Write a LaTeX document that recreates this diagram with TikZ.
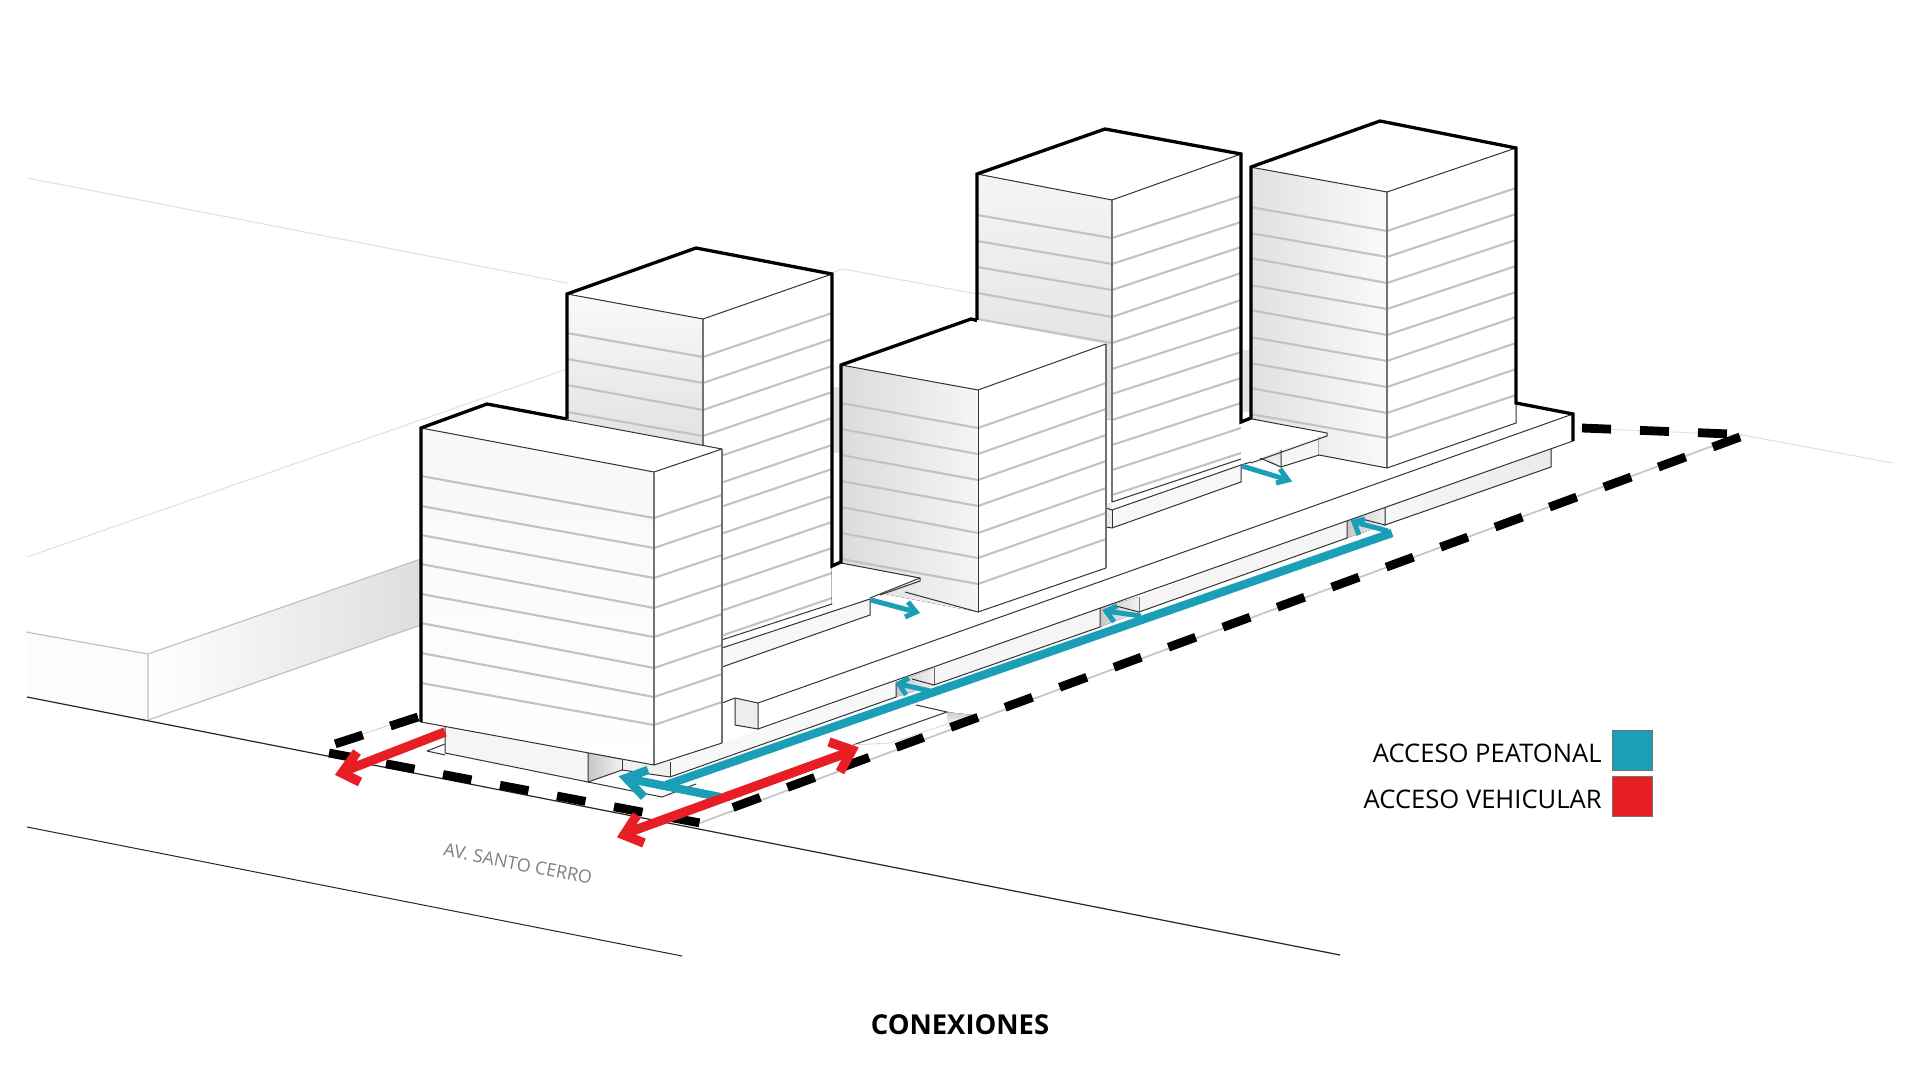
\documentclass[tikz,border=0pt]{standalone}
\usepackage{fontspec}
\setmainfont{Open Sans}
\definecolor{teal1}{HTML}{1B9FB8}
\definecolor{red1}{HTML}{E71F25}
\tikzset{
  thinedge/.style={draw=black!80,line width=.5pt},
  grayedge/.style={draw=black!55,line width=.7pt},
  thick1/.style={draw=black,line width=1.65pt,line join=miter,line cap=butt},
  floorline/.style={draw=black!24,line width=1.05pt},
  faint/.style={draw=black!12,line width=.5pt},
  bound/.style={draw=black,line width=4.4pt,dash pattern=on 14.5pt off 14.5pt},
  tealline/.style={draw=teal1,line width=4.2pt,line join=miter},
  tealsmall/.style={draw=teal1,line width=2.5pt,line join=miter,miter limit=6},
  redline/.style={draw=red1,line width=4.7pt,line join=miter,miter limit=6},
  segface/.style={fill=black!4,draw=black!75,line width=.55pt},
  recess/.style={left color=black!22,right color=black!5},
}
\begin{document}
\begin{tikzpicture}[x=.5pt,y=-.5pt]
\useasboundingbox (0,0) rectangle (1920,1080);
\fill[white] (0,0) rectangle (1920,1080);
% ---------- ground
\draw[faint] (27,178) -- (567,283);
\draw[faint] (831,273) -- (843,269) -- (977,294);
\draw[faint] (27,557) -- (567,369);
\draw[faint] (1742,435) -- (1893,463);
% block at left
\fill[black!1] (26,632) -- (148,654) -- (148,720) -- (26,697) -- cycle;
\fill[left color=white,middle color=black!2,right color=black!13] (148,654) -- (421,559) -- (421,625) -- (148,720) -- cycle;
\draw[floorline,line width=.6pt] (26,632) -- (148,654) -- (421,559);
\draw[floorline,line width=.6pt] (148,654) -- (148,720) -- (421,625);
% road
\draw[black!85,line width=.6pt] (27,697) -- (1340,955);
\draw[black!85,line width=.5pt] (27,827) -- (682,956);
% boundary underlay
\draw[black!22,line width=.9pt] (700,823) -- (1742,435);
\draw[black!10,line width=.5pt] (1578,428) -- (1742,435);
\draw[black!25,line width=.3pt] (336,743) -- (420,715);
% ---------- platform
\fill[white] (758,703) -- (1573,414) -- (1516,403) -- (1240,420) -- (850,570) -- (722,640) -- (722,703) -- cycle;
% right segments under the platform
\fill[left color=black!3,right color=black!8] (1385,508) -- (1551,448) -- (1551,467) -- (1385,525) -- cycle;
\fill[recess] (1347,520) -- (1385,508) -- (1385,525) -- (1347,538) -- cycle;
\draw[thinedge] (1551,448) -- (1551,467) -- (1385,525) -- (1385,508);
\draw[thinedge] (1385,525) -- (1362,519);
\fill[black!4] (1139,597) -- (1347,520) -- (1347,538) -- (1139,612) -- cycle;
\draw[thinedge] (1347,520) -- (1347,538) -- (1139,612) -- (1139,597);
\fill[recess] (1100,608) -- (1139,597) -- (1139,612) -- (1100,627) -- cycle;
\draw[thinedge] (1139,612) -- (1116,606);
\fill[black!4] (934,668) -- (1100,608) -- (1100,627) -- (934,685) -- cycle;
\draw[thinedge] (1100,608) -- (1100,627) -- (934,685) -- (934,668);
\fill[recess] (896,682) -- (934,668) -- (934,685) -- (896,697) -- cycle;
\draw[thinedge] (934,685) -- (912,679);
\fill[black!3] (670,762) -- (896,682) -- (896,697) -- (670,777) -- cycle;
\draw[thinedge] (896,682) -- (896,697) -- (670,777);
% platform front
\fill[white] (758,703) -- (1573,414) -- (1573,441) -- (758,729) -- cycle;
\fill[black!7] (735,698) -- (758,703) -- (758,729) -- (735,725) -- cycle;
\draw[thinedge] (722,703) -- (735,698) -- (758,703) -- (1573,414);
\draw[thinedge] (735,698) -- (735,725) -- (758,729) -- (758,703);
\draw[thinedge] (758,729) -- (1573,441);
% ---------- tower D
\fill[white] (977,174) -- (1105,129) -- (1241,154) -- (1112,200) -- cycle;
\fill[top color=black!4,bottom color=black!13] (977,174) -- (1112,200) -- (1112,420) -- (977,400) -- cycle;
\fill[white] (1112,200) -- (1241,154) -- (1241,459) -- (1112,502) -- cycle;
\foreach \a/\b in {215/238,241/264,267/290,293/317,319/343}
  \draw[floorline] (977,\a) -- (1112,\b);
\foreach \a/\b in {196/238,222/264,247/290,273/317,300/343,327/369,352/394,378/420,403/445,428/470,453/495}
  \draw[floorline] (1241,\a) -- (1112,\b);
\draw[grayedge] (1112,200) -- (1112,502);
\draw[thinedge] (977,174) -- (1112,200) -- (1241,154);
% slab of D, E
\fill[black!11] (1243,350) rectangle (1252,412);
\fill[top color=black!12,bottom color=black!3] (1251,450) -- (1281,450) -- (1281,467) -- cycle;
\fill[black!4] (1281,450) -- (1319,437) -- (1319,455) -- (1281,467) -- cycle;
\draw[thinedge] (1281,450) -- (1281,467) -- (1319,455) -- (1319,437);
\draw[thinedge] (1260,458) -- (1281,467);
% tower E
\fill[white] (1250,167) -- (1380,121) -- (1516,148) -- (1387,192) -- cycle;
\fill[left color=black!12,right color=black!2] (1250,167) -- (1387,192) -- (1387,468) -- (1319,455) -- (1319,437) -- (1250,417) -- cycle;
\fill[white] (1387,192) -- (1516,148) -- (1516,423) -- (1387,468) -- cycle;
\foreach \a/\b in {207/231,233/257,258/283,285/309,310/335,337/361,363/387,388/413,414/438}
  \draw[floorline] (1250,\a) -- (1387,\b);
\foreach \a/\b in {188/231,214/257,240/283,266/309,292/335,317/361,343/387,369/413,395/438}
  \draw[floorline] (1516,\a) -- (1387,\b);
\draw[grayedge] (1387,192) -- (1387,468);
\draw[thinedge] (1250,167) -- (1387,192) -- (1516,148);
\draw[thinedge] (1516,403) -- (1516,423) -- (1387,468) -- (1319,455);
% E slab top
\fill[white] (1252,419) -- (1327,433) -- (1281,450) -- (1241,465) -- (1241,421) -- cycle;
\draw[thinedge] (1252,419) -- (1327,433) -- (1327,436) -- (1251,463);
\draw[thinedge] (1241,459) -- (1112,502);
\fill[black!3] (1112,510) -- (1241,465) -- (1241,482) -- (1112,528) -- cycle;
\fill[black!8] (1106,503) rectangle (1112,528);
\draw[thinedge] (1251,462) -- (1241,465) -- (1112,510) -- (1106,508);
\draw[thinedge] (1241,465) -- (1241,482) -- (1112,528) -- (1106,527) -- (1106,503);
\draw[thinedge] (1112,510) -- (1112,528);
\draw[thick1] (977,320) -- (977,174) -- (1105,129) -- (1241,154) -- (1241,422) -- (1251,418) -- (1251,167) -- (1380,121) -- (1516,148) -- (1516,403) -- (1573,414) -- (1573,441);
% ---------- tower B
\fill[white] (567,294) -- (696,248) -- (832,274) -- (703,319) -- cycle;
\fill[top color=black!2,bottom color=black!12] (567,294) -- (703,319) -- (703,450) -- (567,430) -- cycle;
\fill[white] (703,319) -- (832,274) -- (832,604) -- (703,646) -- cycle;
\foreach \a/\b in {333/357,359/383,385/410,412/436}
  \draw[floorline] (567,\a) -- (703,\b);
\foreach \a/\b in {313/357,339/383,366/410,392/436,418/462,445/489,469/513,496/540,522/566,548/592,573/617,598/642}
  \draw[floorline] (832,\a) -- (703,\b);
\draw[grayedge] (703,319) -- (703,646);
\draw[thinedge] (567,294) -- (703,319) -- (832,274);
\draw[thinedge] (832,565) -- (832,604) -- (703,646);
% gap shading B-C
\fill[black!11] (833,387) rectangle (841,453);
% slab of B, C
\fill[black!3] (722,648) -- (870,599) -- (870,615) -- (722,667) -- cycle;
\draw[thinedge] (722,648) -- (870,599) -- (870,615) -- (722,667);
% ---------- tower C
\fill[white] (841,365) -- (971,319) -- (1106,344) -- (978,390) -- cycle;
\fill[left color=black!14,right color=black!4] (841,365) -- (978,390) -- (978,612) -- (880,593) -- (841,563) -- cycle;
\fill[white] (978,390) -- (1106,344) -- (1106,568) -- (978,612) -- cycle;
\foreach \a/\b in {403/428,429/454,455/480,481/506,507/533,533/558,559/584}
  \draw[floorline] (841,\a) -- (978,\b);
\foreach \a/\b in {383/428,409/454,435/480,461/506,488/533,513/558,539/584}
  \draw[floorline] (1106,\a) -- (978,\b);
\draw[grayedge] (1106,344) -- (1106,568);
\draw[thinedge] (978,390) -- (978,612);
\draw[thinedge] (841,365) -- (978,390) -- (1106,344);
\draw[thinedge] (1106,568) -- (978,612) -- (905,592);
\fill[white] (841,563) -- (920,579) -- (870,598) -- (832,604) -- (832,566) -- cycle;
\draw[thinedge] (841,563) -- (920,578) -- (920,581) -- (880,595);
\draw[thinedge] (870,598) -- (920,578);
\draw[thick1] (567,420) -- (567,294) -- (696,248) -- (832,274) -- (832,566) -- (841,562) -- (841,365) -- (971,319) -- (977,320.5);
% ---------- second plate by the front of the platform
\fill[white] (853,745) -- (947,712) -- (947,723) -- cycle;
\fill[top color=black!20,bottom color=white] (947,712) -- (973,715) -- (947,727) -- cycle;
\draw[thinedge] (916,705) -- (947,712) -- (853,745);
\draw[black!15,line width=.4pt] (853,745) -- (890,743) -- (947,724);
% ---------- tower A and base
\fill[white] (427,751) -- (445,744) -- (622,770) -- (696,784) -- (662,797) -- cycle;
\fill[black!4] (445,727) -- (588,753) -- (588,782) -- (445,753) -- cycle;
\fill[recess] (588,753) -- (622,760) -- (622,770) -- (588,782) -- cycle;
\fill[black!6] (622,760) -- (670,760) -- (670,777) -- (622,770) -- cycle;
\draw[thinedge] (445,727) -- (445,753) -- (588,782);
\draw[thinedge] (427,751) -- (445,744);
\draw[thinedge] (427,751) -- (445,755);
\draw[thinedge] (588,753) -- (588,782) -- (622,770) -- (670,777);
\draw[thinedge] (622,760) -- (622,770);
\draw[thinedge] (670,762) -- (670,777);
\draw[thinedge] (588,782) -- (662,797) -- (696,784);
\fill[white] (421,428) -- (487,404) -- (722,449) -- (654,472) -- cycle;
\fill[top color=black!3,bottom color=black!0] (421,428) -- (654,472) -- (654,765) -- (421,722) -- cycle;
\fill[white] (654,472) -- (722,449) -- (722,743) -- (654,765) -- cycle;
\foreach \a/\b in {476/518,506/548,535/578,564/608,594/637,623/668,653/697,683/725}
  \draw[floorline] (421,\a) -- (654,\b);
\foreach \b in {518,548,578,608,637,668,697,725}
  \draw[floorline] (722,\b-23) -- (654,\b);
\draw[thinedge] (421,428) -- (654,472) -- (722,449);
\draw[grayedge] (654,472) -- (654,765);
\draw[grayedge] (722,449) -- (722,743);
\draw[thinedge] (421,722) -- (654,765) -- (722,743);
\draw[thinedge] (567,420) -- (722,449);
\draw[thick1] (421,722) -- (421,428) -- (487,404) -- (567,419);
% ---------- boundary
\draw[bound,dash phase=0pt] (329,753) -- (700,823);
\draw[bound,dash phase=0pt] (1740,437) -- (726,810);
\draw[bound,dash phase=0pt] (1582,428) -- (1730,434);
\draw[bound,dash phase=0pt] (418,717) -- (335,744);
% ---------- pedestrian arrows
\draw[tealline] (1392,533) -- (666,785);
\draw[tealline] (720,797) -- (625,778);
\draw[tealline] (648,770) -- (626,778) -- (644,797);
\draw[tealsmall] (1388,531) -- (1354,522);
\draw[tealsmall] (1365,519) -- (1354,522) -- (1359,535);
\draw[tealsmall] (1141,616) -- (1106,611);
\draw[tealsmall] (1117,606) -- (1106,611) -- (1114,622);
\draw[tealsmall] (930,691) -- (899,684);
\draw[tealsmall] (909,678) -- (899,684) -- (906,695);
\draw[tealsmall] (871,600) -- (916,612);
\draw[tealsmall] (908,602) -- (916,612) -- (905,617);
\draw[tealsmall] (1242,466) -- (1288,480);
\draw[tealsmall] (1280,469) -- (1288,480) -- (1276,483);
% ---------- vehicle arrows
\draw[redline] (445,732) -- (342,772);
\draw[redline] (357,752) -- (342,773) -- (360,782);
\draw[redline] (624,834) -- (852,751);
\draw[redline] (637,815) -- (624,835) -- (644,843);
\draw[redline] (829,742) -- (852,750) -- (840,772);
% ---------- texts
\node (lbl1) [anchor=base east,font=\fontsize{12.8pt}{14pt}\selectfont,inner sep=0pt] at (1602,762) {ACCESO PEATONAL};
\node (lbl2) [anchor=base east,font=\fontsize{12.8pt}{14pt}\selectfont,inner sep=0pt] at (1602,808) {ACCESO VEHICULAR};
\node (sq1) [draw=black!55,fill=teal1,line width=.5pt,minimum size=20pt,inner sep=0pt] at (1632,750) {};
\node (sq2) [draw=black!55,fill=red1,line width=.5pt,minimum size=20pt,inner sep=0pt] at (1632,796) {};
\node (street) [rotate=-11,text=black!50,font=\fontsize{9pt}{10pt}\selectfont,inner sep=0pt] at (518,864) {AV. SANTO CERRO};
\node (title) [font=\fontsize{13.7pt}{14pt}\selectfont\bfseries,inner sep=0pt] at (960,1025) {CONEXIONES};
\end{tikzpicture}
\end{document}
